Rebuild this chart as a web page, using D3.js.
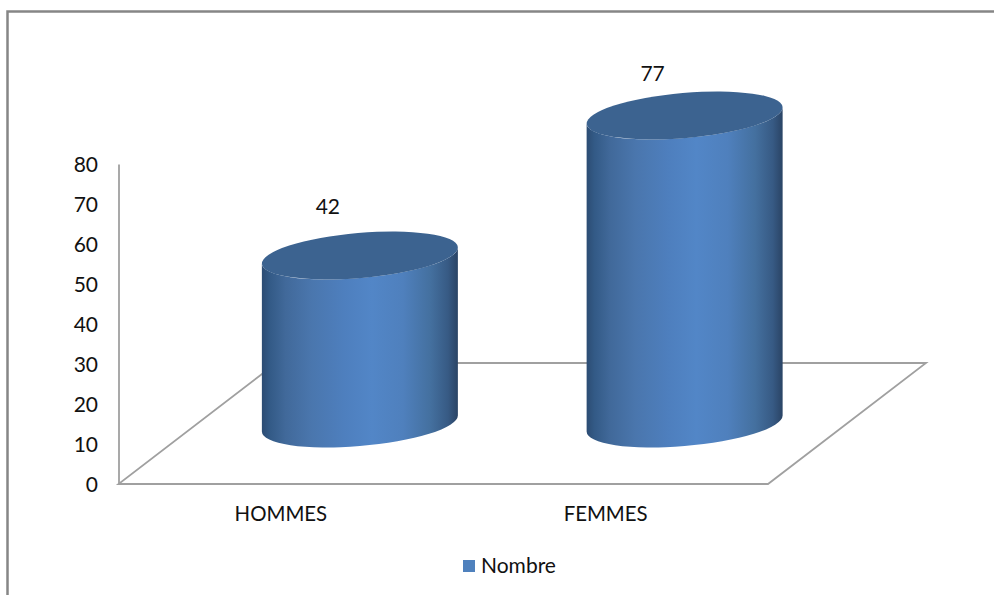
<!DOCTYPE html>
<html>
<head>
<meta charset="utf-8">
<script src="https://cdn.jsdelivr.net/npm/d3@7"></script>
<style>
  body { margin: 0; background: #fff; }
  text { font-family: Lato, "Open Sans", sans-serif; fill: #111; }
</style>
</head>
<body>
<div id="chart"></div>
<script>
const categories = ['HOMMES', 'FEMMES'];
const values = [42, 77];
const yTicks = [0, 10, 20, 30, 40, 50, 60, 70, 80];
const seriesName = 'Nombre';

const width = 994;
const height = 595;

// floor of the 3D plot: front edge and how far back it goes
const plotLeft = 118.5;
const plotRight = 768;
const plotBottom = 484;
const plotTop = 164;
const depthX = 158;
const depthY = 121;

const scaleX = d3.scaleBand()
.domain(categories)
.range([plotLeft, plotRight]);

const scaleY = d3.scaleLinear()
.domain([0, 80])
.range([plotBottom, plotTop]);

// value labels climb a little slower than the bars do
const scaleLabelY = d3.scaleLinear()
.domain([0, 80])
.range([374, 70]);

const svg = d3.select('#chart')
.append('svg')
.attr('width', width)
.attr('height', height)
.style('display', 'block');

// horizontal shading around the cylinders
const grad = svg.append('defs')
.append('linearGradient')
.attr('id', 'cyl')
.attr('x1', 0).attr('x2', 1).attr('y1', 0).attr('y2', 0);

[[0, '#2c4c73'], [0.04, '#335a86'], [0.12, '#41699a'], [0.25, '#4a76ad'], [0.42, '#4e7fbe'],
 [0.56, '#5286c7'], [0.72, '#4f80bd'], [0.86, '#44709f'], [0.95, '#375a84'], [1, '#2a4465']]
.forEach(s => grad.append('stop').attr('offset', s[0]).attr('stop-color', s[1]));

// chart frame, open on the right and at the bottom
svg.append('path')
.attr('d', `M7.5,${height}V11.5H${width}`)
.attr('fill', 'none')
.attr('stroke', '#868686')
.attr('stroke-width', 2.5);

// floor
svg.append('path')
.attr('d', `M${plotLeft},${plotBottom}H${plotRight}L${plotRight + depthX},${plotBottom - depthY}H${plotLeft + depthX}Z`)
.attr('fill', 'none')
.attr('stroke', '#a0a0a0')
.attr('stroke-width', 1.8);

const yAxis = d3.axisLeft(scaleY)
.tickValues(yTicks)
.tickSize(0)
.tickPadding(20.5);

const groupAxisY = svg.append('g')
.attr('transform', `translate(${plotLeft}, 0)`)
.call(yAxis);

groupAxisY.select('.domain')
.attr('stroke', '#a0a0a0')
.attr('stroke-width', 1.8);

groupAxisY.selectAll('text')
.attr('y', 1)
.style('font-size', '21px')
.style('font-family', 'Lato');

const xAxis = d3.axisBottom(scaleX)
.tickSize(0)
.tickPadding(23);

const groupAxisX = svg.append('g')
.attr('transform', `translate(0, ${plotBottom})`)
.call(xAxis);

groupAxisX.select('.domain').remove();

groupAxisX.selectAll('text')
.style('font-size', '20.4px')
.style('font-family', 'Lato');

// cylinder sits halfway into the floor depth
const halfW = 98;
const slope = 8;
const rx = 98.3;
const ry = 22.5;
const tilt = -4.93;
const offX = depthX / 2;
const offY = depthY / 2;

const bars = svg.selectAll('g.bar')
.data(categories.map((c, i) => ({ c, v: values[i] })))
.enter()
.append('g')
.attr('class', 'bar')
.attr('transform', d => `translate(${scaleX(d.c) + scaleX.bandwidth() / 2 + offX}, ${-offY})`);

bars.append('path')
.attr('fill', 'url(#cyl)')
.attr('d', d => {
    const t = scaleY(d.v);
    const b = scaleY(0);
    return `M${-halfW},${t + slope}V${b + slope}`
        + `A${rx},${ry} ${tilt} 0 0 ${halfW},${b - slope}`
        + `V${t - slope}`
        + `A${rx},${ry} ${tilt} 0 1 ${-halfW},${t + slope}Z`;
});

bars.append('ellipse')
.attr('fill', '#3c6390')
.attr('rx', rx)
.attr('ry', ry)
.attr('transform', d => `translate(0, ${scaleY(d.v)}) rotate(${tilt})`);

bars.append('text')
.attr('text-anchor', 'middle')
.attr('x', -32)
.attr('y', d => scaleLabelY(d.v) + offY)
.style('font-size', '21px')
.text(d => d.v);

// legend
svg.append('rect')
.attr('x', 463)
.attr('y', 560)
.attr('width', 12)
.attr('height', 12)
.attr('fill', '#4f81bd');

svg.append('text')
.attr('x', 481)
.attr('y', 573)
.style('font-size', '21px')
.text(seriesName);
</script>
</body>
</html>
